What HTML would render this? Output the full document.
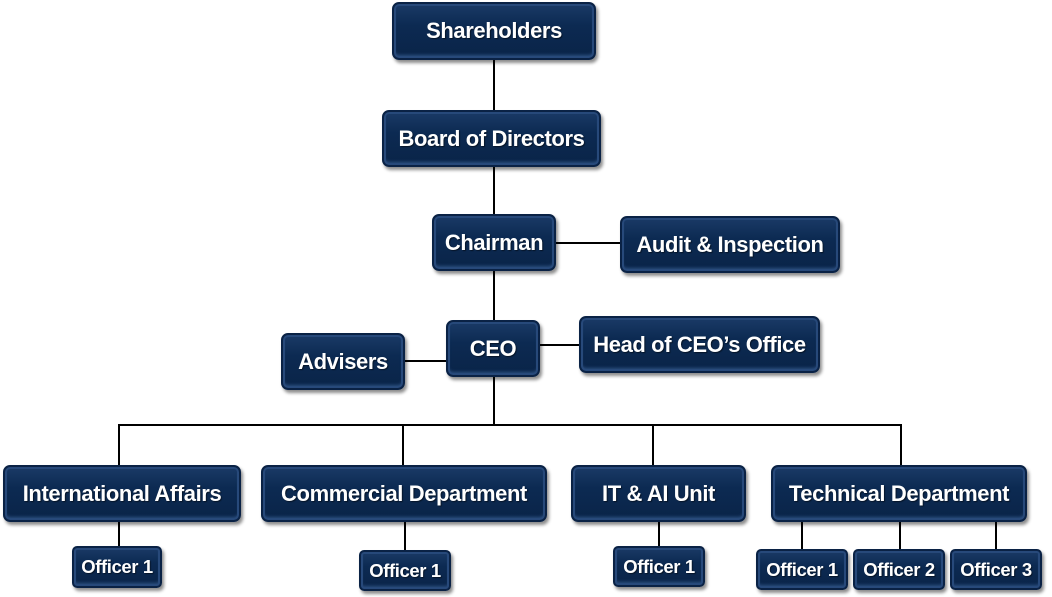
<!DOCTYPE html>
<html><head><style>
body{margin:0;width:1052px;height:597px;background:#fff;position:relative;overflow:hidden;font-family:"Liberation Sans",sans-serif}
.b{position:absolute;box-sizing:border-box;background:linear-gradient(#1a3a66,#0c2a52 40%,#0a2448);border-radius:7px;border:2px solid #0a2245;box-shadow:inset 0 0 0 2px #27497a,inset 0 -3px 3px #2c5080,2px 3px 3px rgba(0,0,0,.45);color:#fff;font-weight:bold;font-size:22px;letter-spacing:-.4px;display:flex;align-items:center;justify-content:center;white-space:nowrap;text-shadow:1px 1px 1px rgba(0,0,0,.5)}
.o{font-size:18.5px;border-radius:5px}
.l{position:absolute;background:#000}
</style></head><body>
<div class="l" style="left:493px;top:58px;width:2px;height:264px"></div>
<div class="l" style="left:554px;top:242px;width:68px;height:2px"></div>
<div class="l" style="left:403px;top:360px;width:45px;height:2px"></div>
<div class="l" style="left:538px;top:344px;width:43px;height:2px"></div>
<div class="l" style="left:493px;top:375px;width:2px;height:51px"></div>
<div class="l" style="left:118px;top:424px;width:784px;height:2px"></div>
<div class="l" style="left:118px;top:424px;width:2px;height:43px"></div>
<div class="l" style="left:402px;top:424px;width:2px;height:43px"></div>
<div class="l" style="left:652px;top:424px;width:2px;height:43px"></div>
<div class="l" style="left:900px;top:424px;width:2px;height:43px"></div>
<div class="l" style="left:118px;top:520px;width:2px;height:28px"></div>
<div class="l" style="left:404px;top:520px;width:2px;height:32px"></div>
<div class="l" style="left:658px;top:520px;width:2px;height:28px"></div>
<div class="l" style="left:801px;top:520px;width:2px;height:31px"></div>
<div class="l" style="left:899px;top:520px;width:2px;height:31px"></div>
<div class="l" style="left:995px;top:520px;width:2px;height:31px"></div>

<div class="b" style="left:392px;top:2px;width:204px;height:58px">Shareholders</div>
<div class="b" style="left:382px;top:110px;width:219px;height:57px">Board of Directors</div>
<div class="b" style="left:432px;top:214px;width:124px;height:57px">Chairman</div>
<div class="b" style="left:620px;top:216px;width:220px;height:57px">Audit &amp; Inspection</div>
<div class="b" style="left:446px;top:320px;width:94px;height:57px">CEO</div>
<div class="b" style="left:281px;top:333px;width:124px;height:57px">Advisers</div>
<div class="b" style="left:579px;top:316px;width:241px;height:57px">Head of CEO’s Office</div>
<div class="b" style="left:3px;top:465px;width:238px;height:57px">International Affairs</div>
<div class="b" style="left:261px;top:465px;width:286px;height:57px">Commercial Department</div>
<div class="b" style="left:571px;top:465px;width:175px;height:57px">IT &amp; AI Unit</div>
<div class="b" style="left:771px;top:465px;width:256px;height:57px">Technical Department</div>
<div class="b o" style="left:72px;top:546px;width:90px;height:42px">Officer 1</div>
<div class="b o" style="left:359px;top:550px;width:92px;height:41px">Officer 1</div>
<div class="b o" style="left:613px;top:546px;width:92px;height:41px">Officer 1</div>
<div class="b o" style="left:756px;top:549px;width:92px;height:41px">Officer 1</div>
<div class="b o" style="left:853px;top:549px;width:92px;height:41px">Officer 2</div>
<div class="b o" style="left:950px;top:549px;width:92px;height:41px">Officer 3</div>
</body></html>
